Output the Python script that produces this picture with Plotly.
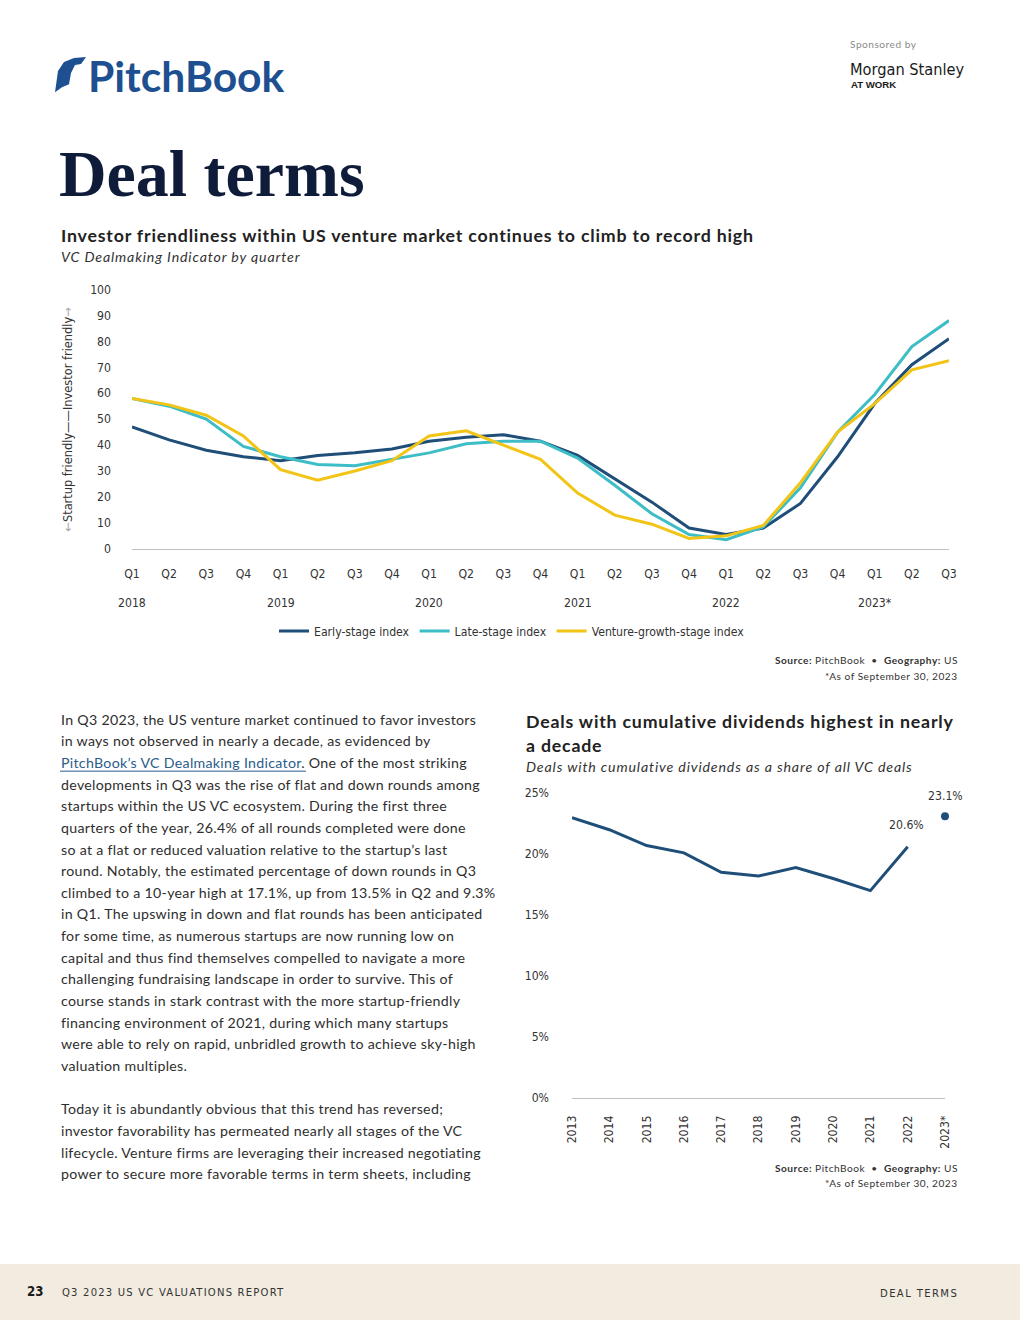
import plotly.graph_objects as go

# ---------------- data ----------------
quarters = ["Q1", "Q2", "Q3", "Q4"] * 5 + ["Q1", "Q2", "Q3"]
years = ["2018", "2019", "2020", "2021", "2022", "2023*"]
early_stage = [47, 42, 38, 35.5, 34, 36, 37, 38.5, 41.5, 43, 44, 41.5, 36, 27, 18, 8, 5.5, 8, 17.5, 35.5, 56, 71, 81]
late_stage = [58, 55, 50, 39.5, 35.5, 32.5, 32, 34.5, 37, 40.5, 41.5, 41.5, 35, 24.5, 13.5, 5.5, 3.5, 8.5, 23.5, 45, 59.5, 78, 88]
venture_growth = [58, 55.5, 51.5, 43.5, 30.5, 26.5, 30, 34, 43.5, 45.5, 40, 34.5, 21.5, 13, 9.5, 4, 5, 9, 25.5, 45, 56, 69, 72.5]
series_names = ["Early-stage index", "Late-stage index", "Venture-growth-stage index"]

div_years = ["2013", "2014", "2015", "2016", "2017", "2018", "2019", "2020", "2021", "2022", "2023*"]
div_share = [23.0, 22.0, 20.7, 20.1, 18.5, 18.2, 18.9, 18.0, 17.0, 20.6]
div_2023 = 23.1

body_lines = [
    "In Q3 2023, the US venture market continued to favor investors",
    "in ways not observed in nearly a decade, as evidenced by",
    "LINK",
    "developments in Q3 was the rise of flat and down rounds among",
    "startups within the US VC ecosystem. During the first three",
    "quarters of the year, 26.4% of all rounds completed were done",
    "so at a flat or reduced valuation relative to the startup’s last",
    "round. Notably, the estimated percentage of down rounds in Q3",
    "climbed to a 10-year high at 17.1%, up from 13.5% in Q2 and 9.3%",
    "in Q1. The upswing in down and flat rounds has been anticipated",
    "for some time, as numerous startups are now running low on",
    "capital and thus find themselves compelled to navigate a more",
    "challenging fundraising landscape in order to survive. This of",
    "course stands in stark contrast with the more startup-friendly",
    "financing environment of 2021, during which many startups",
    "were able to rely on rapid, unbridled growth to achieve sky-high",
    "valuation multiples.",
    "",
    "Today it is abundantly obvious that this trend has reversed;",
    "investor favorability has permeated nearly all stages of the VC",
    "lifecycle. Venture firms are leveraging their increased negotiating",
    "power to secure more favorable terms in term sheets, including",
]

# ---------------- styling ----------------
# the photographed view is ~1036x1336 CSS px scaled down to 1020x1320
SX, SY = 1020 / 1036, 1320 / 1336
W, H = 1036, 1336
FS = 1 / 0.986  # font compensation for the downscale
NAVY = "#1f4e79"
TEAL = "#3dbdc6"
YELLOW = "#f2c416"
DARK = "#222222"
COND = "Liberation Sans Narrow, DejaVu Sans Condensed, Roboto, sans-serif"
SANS = "Lato, Open Sans, sans-serif"


def px(x):
    return (x / SX) / W


def py(y):
    return 1 - (y / SY) / H


def fs(v):
    return round(v * FS, 2)


fig = go.Figure()

idx = list(range(len(quarters)))
for name, vals, col in zip(series_names, [early_stage, late_stage, venture_growth], [NAVY, TEAL, YELLOW]):
    fig.add_trace(go.Scatter(x=idx, y=vals, mode="lines", name=name, cliponaxis=False,
                             line=dict(color=col, width=3), xaxis="x", yaxis="y"))

yi = list(range(len(div_share)))
fig.add_trace(go.Scatter(x=yi, y=div_share, mode="lines", showlegend=False, cliponaxis=False,
                         line=dict(color=NAVY, width=3), xaxis="x2", yaxis="y2"))
fig.add_trace(go.Scatter(x=[len(div_years) - 1], y=[div_2023], mode="markers", showlegend=False,
                         cliponaxis=False, marker=dict(color=NAVY, size=8), xaxis="x2", yaxis="y2"))

ann = []


def text(x, y, s, size=12, color=DARK, family=SANS, xanchor="left", weight=None, ls=None, **kw):
    f = dict(size=fs(size), color=color, family=family)
    if weight:
        f["weight"] = weight
    if ls:
        s = f"<span style='letter-spacing:{ls}px'>{s}</span>"
    ann.append(dict(x=px(x), y=py(y), xref="paper", yref="paper", text=s, showarrow=False,
                    xanchor=xanchor, yanchor="middle", font=f, **kw))


# header
text(86, 76, "PitchBook", size=42, color="#1d4f91", family="Lato, sans-serif", weight=700)
text(848, 45, "Sponsored by", size=10, color="#8a8a8a", family=SANS, ls=0.5)
text(848, 70, "Morgan Stanley", size=16, color="#1a1a1a", family=COND)
text(849, 85, "AT WORK", size=9.5, color="#1a1a1a", family="Liberation Sans, sans-serif", weight=700)
text(57, 174, "Deal terms", size=65, color="#0e1c3a", family="Liberation Serif, serif", weight=700)

# chart 1 titles
text(59, 236, "Investor friendliness within US venture market continues to climb to record high",
     size=17.5, family=SANS, weight=700, ls=0.8)
text(59, 257, "<i>VC Dealmaking Indicator by quarter</i>", size=14, color="#333333", ls=0.85)

# y title chart 1
ann.append(dict(x=px(68), y=py(420), xref="paper", yref="paper", showarrow=False, textangle=-90,
                text="<span style='color:#aaaaaa'>←</span>Startup friendly——Investor friendly<span style='color:#aaaaaa'>→</span>",
                font=dict(size=fs(12.5), color="#333333", family=COND), xanchor="center", yanchor="middle"))

# year labels chart 1
for k, yr in enumerate(years):
    ann.append(dict(x=k * 4, y=py(603), xref="x", yref="paper", text=yr, showarrow=False,
                    xanchor="center", yanchor="middle",
                    font=dict(size=fs(12), color="#333333", family=COND)))

# source chart 1
text(960, 660, "<b>Source:</b> PitchBook  •  <b>Geography:</b> US", size=10, color="#333333",
     xanchor="right", ls=0.5)
text(960, 676, "*As of September 30, 2023", size=10, color="#333333", xanchor="right", ls=0.5)

# chart 2 titles
text(524, 721, "Deals with cumulative dividends highest in nearly", size=17.5, weight=700, ls=0.8)
text(524, 745, "a decade", size=17.5, weight=700, ls=0.8)
text(524, 766, "<i>Deals with cumulative dividends as a share of all VC deals</i>", size=14,
     color="#333333", ls=0.85)

# data labels chart 2
ann.append(dict(x=len(div_share) - 1, y=div_share[-1], xref="x2", yref="y2", text=f"{div_share[-1]}%",
                showarrow=False, yshift=22, xshift=-1, font=dict(size=fs(12), color="#333333", family=COND)))
ann.append(dict(x=len(div_years) - 1, y=div_2023, xref="x2", yref="y2", text=f"{div_2023}%",
                showarrow=False, yshift=20, font=dict(size=fs(12), color="#333333", family=COND)))

# source chart 2
text(960, 1167, "<b>Source:</b> PitchBook  •  <b>Geography:</b> US", size=10, color="#333333",
     xanchor="right", ls=0.5)
text(960, 1182, "*As of September 30, 2023", size=10, color="#333333", xanchor="right", ls=0.5)

# body text
for i, line in enumerate(body_lines):
    y = 719 + i * 21.62
    if line == "LINK":
        line = "<span style='color:#2b5c8a'>PitchBook’s VC Dealmaking Indicator</span>. One of the most striking"
    if line:
        text(59, y, line, size=14, color="#2e2e2e", ls=0.3)

# footer
text(25, 1291, "<b>23</b>", size=13, color="#1a1a1a", family=COND)
text(60, 1292, "Q3 2023 US VC VALUATIONS REPORT", size=11, color="#333333", family=COND, ls=1.2)
text(960, 1293, "DEAL TERMS", size=11, color="#333333", family=COND, xanchor="right", ls=1.4)

shapes = [
    dict(type="rect", xref="paper", yref="paper", x0=0, x1=1, y0=0, y1=py(1263), fillcolor="#f1ebe0",
         line=dict(width=0), layer="below"),
    dict(type="line", xref="paper", yref="paper", x0=px(60), x1=px(306), y0=py(771), y1=py(771),
         line=dict(color="#2b5c8a", width=1)),
    dict(type="path", xref="paper", yref="paper", fillcolor="#1d4f91", line=dict(width=0),
         path=f"M {px(55)},{py(93)} L {px(58)},{py(72)} L {px(64)},{py(63)} L {px(74)},{py(59)} L {px(86)},{py(58)} "
              f"L {px(81)},{py(65)} L {px(75)},{py(66)} L {px(71)},{py(74)} L {px(69)},{py(85)} L {px(62)},{py(88)} Z"),
]

tick_font = dict(size=fs(12), color="#333333", family=COND)
fig.update_layout(
    width=W, height=H, margin=dict(l=0, r=0, t=0, b=0),
    paper_bgcolor="white", plot_bgcolor="white",
    annotations=ann, shapes=shapes,
    legend=dict(orientation="h", x=px(512), xanchor="center", y=py(631), yanchor="middle",
                font=tick_font, itemwidth=30, bgcolor="rgba(0,0,0,0)"),
    xaxis=dict(domain=[px(132), px(949)], range=[0, 22], tickvals=idx, ticktext=quarters,
               showgrid=False, zeroline=False, showline=True, linecolor="#bfbfbf", linewidth=1,
               ticks="", ticklabelstandoff=14, tickfont=tick_font, anchor="y", fixedrange=True),
    yaxis=dict(domain=[py(549), py(290)], range=[0, 100], tickvals=list(range(0, 101, 10)),
               showgrid=False, zeroline=False, showline=False, ticks="", ticklabelstandoff=20,
               tickfont=tick_font, anchor="x", fixedrange=True),
    xaxis2=dict(domain=[px(572), px(945)], range=[0, 10], tickvals=list(range(len(div_years))),
                ticktext=div_years, tickangle=-90, showgrid=False, zeroline=False, showline=True,
                linecolor="#bfbfbf", linewidth=1, ticks="", ticklabelstandoff=12,
                tickfont=tick_font, anchor="y2", fixedrange=True),
    yaxis2=dict(domain=[py(1097), py(793)], range=[0, 25], tickvals=[0, 5, 10, 15, 20, 25],
                ticktext=["0%", "5%", "10%", "15%", "20%", "25%"], showgrid=False, zeroline=False,
                showline=False, ticks="", ticklabelstandoff=22,
                tickfont=tick_font, anchor="x2", fixedrange=True),
    showlegend=True,
)

fig.write_html("out.html", config={"displayModeBar": False},
               post_script="document.body.style.margin='-8px';")
